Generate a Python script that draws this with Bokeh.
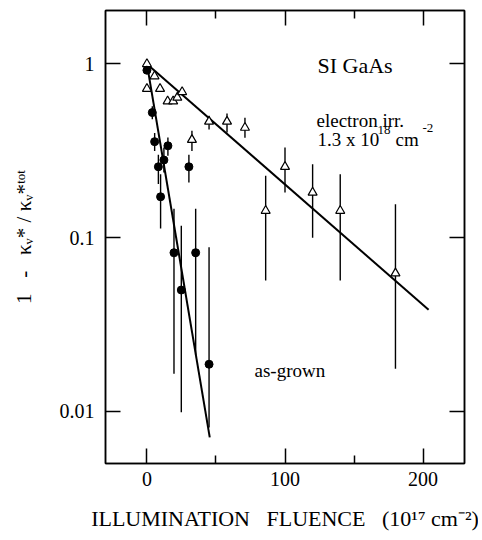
from bokeh.plotting import figure
from bokeh.models import (Range1d, FixedTicker, CustomJSTickFormatter, LinearAxis,
                          LogAxis, Label)
from bokeh.embed import file_html
from bokeh.resources import INLINE

# ---- data ----
irr_x = [0, 5.5, 0, 9.5, 15, 19, 22, 25.5, 32.6, 45, 58, 71, 86, 100, 120, 140, 180]
irr_y = [1.0, 0.85, 0.72, 0.72, 0.61, 0.61, 0.64, 0.69, 0.366, 0.466, 0.466, 0.43,
         0.143, 0.256, 0.182, 0.143, 0.0624]
irr_lo = [None, None, None, None, None, None, None, None, 0.316, 0.42, 0.403, 0.376,
          0.0567, 0.182, 0.10, 0.0567, 0.0176]
irr_hi = [None, None, None, None, None, None, None, None, 0.412, 0.503, 0.518, 0.49,
          0.227, 0.33, 0.265, 0.232, 0.156]

grown_x = [0, 3.9, 5.6, 15.2, 12.3, 8.3, 30.4, 9.9, 19.6, 35.3, 24.9, 45]
grown_y = [0.92, 0.525, 0.357, 0.338, 0.28, 0.256, 0.256, 0.172, 0.082, 0.082, 0.050, 0.0187]
grown_lo = [None, 0.48, 0.316, 0.296, 0.237, 0.204, 0.208, 0.113, 0.0165, 0.021, 0.0099, 0.0081]
grown_hi = [None, 0.57, 0.40, 0.377, 0.33, 0.30, 0.30, 0.232, 0.147, 0.147, 0.117, 0.088]

fit_grown_x = [0, 45.5]
fit_grown_y = [1.0, 0.0071]
fit_irr_x = [0, 204]
fit_irr_y = [1.0, 0.0385]

x_ticks = [0, 100, 200]
x_minor = [50, 150]
y_ticks = [0.01, 0.1, 1]

FONT = "Liberation Serif"

p = figure(width=478, height=536, y_axis_type="log",
           x_range=Range1d(-30, 230), y_range=Range1d(0.00502, 2.03),
           output_backend="svg", toolbar_location=None,
           min_border_left=105, min_border_right=14, min_border_top=10, min_border_bottom=73)
p.background_fill_color = "white"
p.border_fill_color = "white"
p.outline_line_color = "black"
p.outline_line_width = 1.5
p.grid.visible = False

def style_axis(ax, labels=True):
    ax.major_tick_in = 15
    ax.major_tick_out = 0
    ax.minor_tick_in = 8
    ax.minor_tick_out = 0
    ax.major_tick_line_width = 1.5
    ax.minor_tick_line_width = 1.5
    ax.major_tick_line_color = "black"
    ax.minor_tick_line_color = "black"
    ax.axis_line_color = "black"
    ax.axis_line_width = 1.5
    ax.major_label_text_font = FONT
    ax.major_label_text_color = "black"
    ax.major_label_text_font_size = "20px"
    ax.axis_label_text_font = FONT
    ax.axis_label_text_font_style = "normal"
    ax.axis_label_text_color = "black"
    ax.axis_label_text_font_size = "21px"
    if not labels:
        ax.formatter = CustomJSTickFormatter(code="return ''")
        ax.major_label_standoff = 0

xt = FixedTicker(ticks=x_ticks, minor_ticks=x_minor)
yt = FixedTicker(ticks=y_ticks, minor_ticks=[])

style_axis(p.xaxis[0])
p.xaxis[0].ticker = xt
p.xaxis[0].major_label_standoff = 8
p.xaxis[0].axis_label = "ILLUMINATION\u00a0\u00a0 FLUENCE\u00a0\u00a0 (10\u00b9\u2077 cm\u207b\u00b2)"
p.xaxis[0].axis_label_text_font_size = "22px"
p.xaxis[0].axis_label_standoff = 17

style_axis(p.yaxis[0])
p.yaxis[0].ticker = yt
p.yaxis[0].formatter = CustomJSTickFormatter(code="return String(tick)")
p.yaxis[0].major_label_standoff = 11
p.yaxis[0].axis_label = "1\u00a0\u00a0 -\u00a0\u00a0 \u03ba\u1d65* / \u03ba\u1d65*\u1d57\u1d52\u1d57"
p.yaxis[0].axis_label_standoff = 21

top = LinearAxis(ticker=FixedTicker(ticks=x_ticks, minor_ticks=x_minor))
style_axis(top, labels=False)
p.add_layout(top, "above")
right = LogAxis(ticker=FixedTicker(ticks=y_ticks, minor_ticks=[]))
style_axis(right, labels=False)
p.add_layout(right, "right")

# fits
p.line(fit_grown_x, fit_grown_y, line_color="black", line_width=2)
p.line(fit_irr_x, fit_irr_y, line_color="black", line_width=2)

# error bars
def bars(xs, lo, hi):
    bx = [x for x, l in zip(xs, lo) if l is not None]
    bl = [l for l in lo if l is not None]
    bh = [h for h in hi if h is not None]
    p.segment(x0=bx, y0=bl, x1=bx, y1=bh, line_color="black", line_width=1.4)

bars(irr_x, irr_lo, irr_hi)
bars(grown_x, grown_lo, grown_hi)

p.scatter(irr_x, irr_y, marker="triangle", size=9, fill_color="white",
          line_color="black", line_width=1.2)
p.scatter(grown_x, grown_y, marker="circle", size=8, fill_color="black",
          line_color="black")

def lab(text, x, y, size=19, angle=0):
    p.add_layout(Label(x=x, y=y, x_units="screen", y_units="screen", text=text,
                       text_font=FONT, text_font_size=f"{size}px", text_color="black",
                       text_align="left", text_baseline="alphabetic",
                       angle=angle, angle_units="deg"))

# in-plot texts
lab("SI GaAs", 212, 398, 22)
lab("electron irr.", 211, 343, 19)
lab("1.3 x 10", 212, 324, 19)
lab("18", 272, 334, 13)
lab("cm", 290, 324, 19)
lab("-2", 317, 336, 13)
lab("as-grown", 149, 93, 19)

open("out.html", "w").write(file_html(p, INLINE))
